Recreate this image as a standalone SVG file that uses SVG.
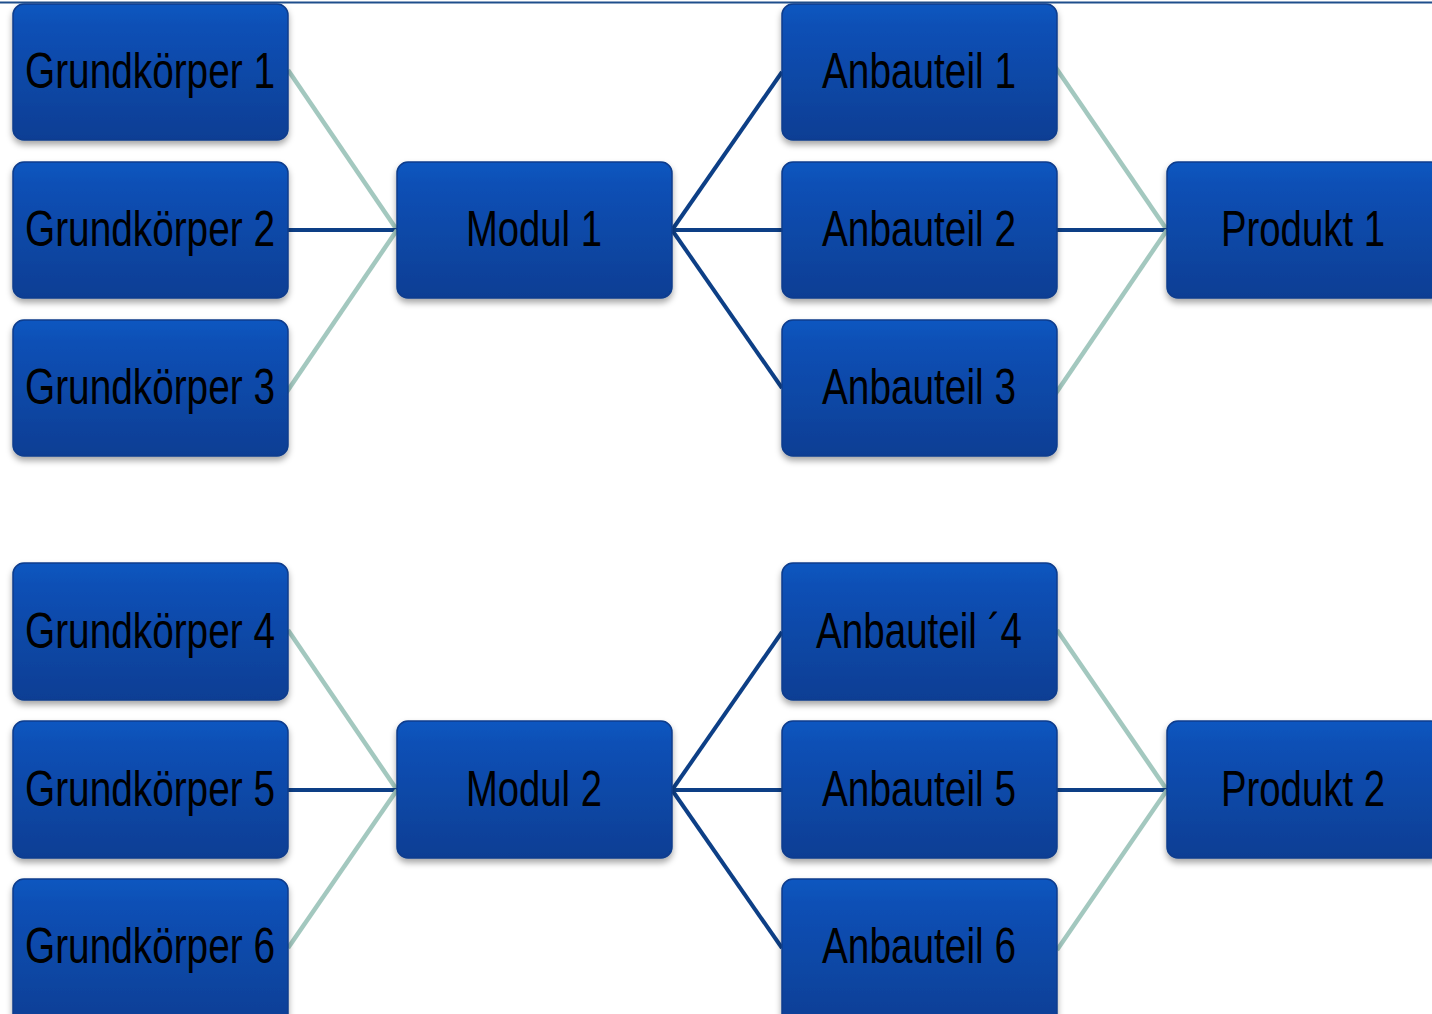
<svg xmlns="http://www.w3.org/2000/svg" width="1432" height="1014" viewBox="0 0 1432 1014">
<style>
.box{fill:url(#g);stroke:#0a3c8c;stroke-width:1.5;filter:url(#sh)}
.t{font-family:"Liberation Sans",Arial,sans-serif;font-size:50px;fill:#000;text-anchor:middle}
.lt{stroke:#a3c8bf;stroke-width:4.5;fill:none}
.dk{stroke:#0d3f86;stroke-width:4;fill:none}
</style>
<defs>
<linearGradient id="g" x1="0" y1="0" x2="0" y2="1">
<stop offset="0" stop-color="#0a57c0"/>
<stop offset="0.15" stop-color="#0750b6"/>
<stop offset="1" stop-color="#083e94"/>
</linearGradient>
<filter id="sh" x="-10%" y="-10%" width="120%" height="130%">
<feDropShadow dx="0" dy="4" stdDeviation="3" flood-color="#000" flood-opacity="0.35"/>
</filter>
</defs>
<rect x="0" y="0" width="1432" height="1014" fill="#fff"/>
<line x1="0" y1="2.5" x2="1432" y2="2.5" stroke="#1f4e8c" stroke-width="2"/>
<g id="connectors">
<line class="lt" x1="288" y1="70" x2="397" y2="230"/>
<line class="dk" x1="288" y1="230" x2="397" y2="230"/>
<line class="lt" x1="284" y1="396" x2="397" y2="230"/>
<line class="dk" x1="672" y1="230" x2="782" y2="72"/>
<line class="dk" x1="672" y1="230" x2="782" y2="230"/>
<line class="dk" x1="672" y1="230" x2="782" y2="388"/>
<line class="lt" x1="1054" y1="65" x2="1167" y2="230"/>
<line class="dk" x1="1057" y1="230" x2="1167" y2="230"/>
<line class="lt" x1="1054" y1="396" x2="1167" y2="230"/>
<line class="lt" x1="288" y1="630" x2="397" y2="790"/>
<line class="dk" x1="288" y1="790" x2="397" y2="790"/>
<line class="lt" x1="288" y1="948" x2="397" y2="790"/>
<line class="dk" x1="672" y1="790" x2="782" y2="632"/>
<line class="dk" x1="672" y1="790" x2="782" y2="790"/>
<line class="dk" x1="672" y1="790" x2="782" y2="948"/>
<line class="lt" x1="1057" y1="630" x2="1167" y2="790"/>
<line class="dk" x1="1057" y1="790" x2="1167" y2="790"/>
<line class="lt" x1="1057" y1="950" x2="1167" y2="790"/>
</g>
<g id="gk1"><rect class="box" x="13" y="4" width="275" height="136" rx="11"/><text class="t" x="150" y="88" textLength="250" lengthAdjust="spacingAndGlyphs">Grundkörper 1</text></g>
<g id="gk2"><rect class="box" x="13" y="162" width="275" height="136" rx="11"/><text class="t" x="150" y="246" textLength="250" lengthAdjust="spacingAndGlyphs">Grundkörper 2</text></g>
<g id="gk3"><rect class="box" x="13" y="320" width="275" height="136" rx="11"/><text class="t" x="150" y="404" textLength="250" lengthAdjust="spacingAndGlyphs">Grundkörper 3</text></g>
<g id="modul1"><rect class="box" x="397" y="162" width="275" height="136" rx="11"/><text class="t" x="534" y="246" textLength="136" lengthAdjust="spacingAndGlyphs">Modul 1</text></g>
<g id="ab1"><rect class="box" x="782" y="4" width="275" height="136" rx="11"/><text class="t" x="919" y="88" textLength="194" lengthAdjust="spacingAndGlyphs">Anbauteil 1</text></g>
<g id="ab2"><rect class="box" x="782" y="162" width="275" height="136" rx="11"/><text class="t" x="919" y="246" textLength="194" lengthAdjust="spacingAndGlyphs">Anbauteil 2</text></g>
<g id="ab3"><rect class="box" x="782" y="320" width="275" height="136" rx="11"/><text class="t" x="919" y="404" textLength="194" lengthAdjust="spacingAndGlyphs">Anbauteil 3</text></g>
<g id="produkt1"><rect class="box" x="1167" y="162" width="275" height="136" rx="11"/><text class="t" x="1303" y="246" textLength="164" lengthAdjust="spacingAndGlyphs">Produkt 1</text></g>
<g id="gk4"><rect class="box" x="13" y="563" width="275" height="137" rx="11"/><text class="t" x="150" y="648" textLength="250" lengthAdjust="spacingAndGlyphs">Grundkörper 4</text></g>
<g id="gk5"><rect class="box" x="13" y="721" width="275" height="137" rx="11"/><text class="t" x="150" y="806" textLength="250" lengthAdjust="spacingAndGlyphs">Grundkörper 5</text></g>
<g id="gk6"><rect class="box" x="13" y="879" width="275" height="150" rx="11"/><text class="t" x="150" y="963" textLength="250" lengthAdjust="spacingAndGlyphs">Grundkörper 6</text></g>
<g id="modul2"><rect class="box" x="397" y="721" width="275" height="137" rx="11"/><text class="t" x="534" y="806" textLength="136" lengthAdjust="spacingAndGlyphs">Modul 2</text></g>
<g id="ab4"><rect class="box" x="782" y="563" width="275" height="137" rx="11"/><text class="t" x="919" y="648" textLength="206" lengthAdjust="spacingAndGlyphs">Anbauteil ´4</text></g>
<g id="ab5"><rect class="box" x="782" y="721" width="275" height="137" rx="11"/><text class="t" x="919" y="806" textLength="194" lengthAdjust="spacingAndGlyphs">Anbauteil 5</text></g>
<g id="ab6"><rect class="box" x="782" y="879" width="275" height="150" rx="11"/><text class="t" x="919" y="963" textLength="194" lengthAdjust="spacingAndGlyphs">Anbauteil 6</text></g>
<g id="produkt2"><rect class="box" x="1167" y="721" width="275" height="137" rx="11"/><text class="t" x="1303" y="806" textLength="164" lengthAdjust="spacingAndGlyphs">Produkt 2</text></g>
</svg>
